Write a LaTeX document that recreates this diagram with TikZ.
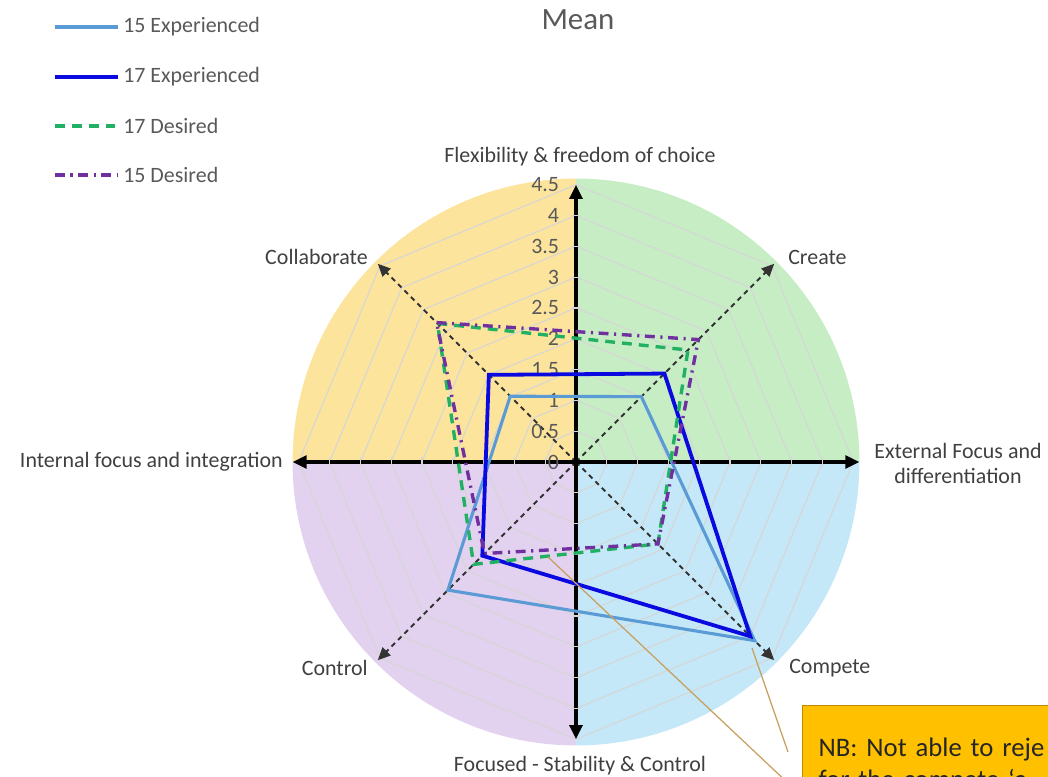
\documentclass[tikz,border=0pt]{standalone}
\usepackage{fontspec}
\setmainfont{Carlito}
\usetikzlibrary{arrows.meta,positioning}

\definecolor{quadyellow}{HTML}{FCE49C}
\definecolor{quadgreen}{HTML}{C6EDC4}
\definecolor{quadblue}{HTML}{C4E8F7}
\definecolor{quadpurple}{HTML}{E2D1EF}
\definecolor{gridgray}{HTML}{D6D6D6}
\definecolor{labelgray}{HTML}{404040}
\definecolor{ticktext}{HTML}{595959}
\definecolor{expfifteen}{HTML}{5B9BD5}
\definecolor{expseventeen}{HTML}{0A0AE0}
\definecolor{desseventeen}{HTML}{22B062}
\definecolor{desfifteen}{HTML}{7030A0}
\definecolor{calloutline}{HTML}{C8A062}
\definecolor{nbfill}{HTML}{FFC000}
\definecolor{nbdraw}{HTML}{C08A00}

\begin{document}
\begin{tikzpicture}[x=0.025cm,y=0.025cm,
    lbl/.style={font=\fontsize{15.6}{17.8}\selectfont, text=labelgray, inner sep=0pt},
    legtext/.style={font=\fontsize{15.6}{17.8}\selectfont, text=ticktext, inner sep=0pt, anchor=west},
    ticklbl/.style={font=\fontsize{15.6}{17.8}\selectfont, text=ticktext, inner sep=0pt, anchor=east},
    mainaxis/.style={line width=2.6pt, black, {Triangle[length=10pt,width=9pt]}-{Triangle[length=10pt,width=9pt]}},
    diagaxis/.style={line width=1.4pt, black!80, dash pattern=on 3.5pt off 3pt, -{Triangle[length=9pt,width=8pt]}},
    gridline/.style={gridgray, line width=0.8pt},
    tickmark/.style={gridgray, line width=0.8pt},
    exp15/.style={expfifteen, line width=2.2pt},
    exp17/.style={expseventeen, line width=2.7pt},
    des17/.style={desseventeen, line width=2.4pt, dash pattern=on 7pt off 5pt},
    des15/.style={desfifteen, line width=2.4pt, dash pattern=on 7pt off 4pt on 1.5pt off 4pt},
    callout/.style={calloutline, line width=0.9pt},
    nbbox/.style={fill=nbfill, draw=nbdraw, line width=0.8pt, text=black!85,
      font=\fontsize{19}{22.5}\selectfont, text width=9cm, align=left,
      inner xsep=0.4cm, inner ysep=16pt, minimum height=3cm}]
  \useasboundingbox (-576,-315) rectangle (472,462);
  \clip (-576,-315) rectangle (472,462);

  \begin{scope}[x=1.54cm,y=1.54cm]
    % quadrants
    \fill[quadgreen] (0,0) -- (0:4.6) arc (0:90:4.6) -- cycle;
    \fill[quadyellow] (0,0) -- (90:4.6) arc (90:180:4.6) -- cycle;
    \fill[quadpurple] (0,0) -- (180:4.6) arc (180:270:4.6) -- cycle;
    \fill[quadblue] (0,0) -- (270:4.6) arc (270:360:4.6) -- cycle;
    \foreach \r in {0.5,1,...,4.5}
      \draw[gridline] (0:\r) -- (45:\r) -- (90:\r) -- (135:\r) -- (180:\r)
        -- (225:\r) -- (270:\r) -- (315:\r) -- cycle;

    \coordinate (o) at (0,0);
    \coordinate (collab) at (135:4.55);
    \coordinate (create) at (45:4.55);
    \coordinate (compete) at (-45:4.55);
    \coordinate (control) at (225:4.55);
    \coordinate (topax) at (0,4.5);
    \coordinate (botax) at (0,-4.5);
    \coordinate (leftax) at (-4.6,0);
    \coordinate (rightax) at (4.6,0);

    \foreach \d in {collab,create,compete,control}
      \draw[diagaxis] (o) -- (\d);
    \draw[mainaxis] (botax) -- (topax);
    \draw[mainaxis] (leftax) -- (rightax);
    \foreach \v in {0.5,1,...,4} {
      \draw[tickmark] (-0.08,\v) -- (0.08,\v);
      \draw[tickmark] (-0.08,-\v) -- (0.08,-\v);
      \draw[tickmark] (\v,-0.08) -- (\v,0.08);
      \draw[tickmark] (-\v,-0.08) -- (-\v,0.08);
    }
    \foreach \v/\t in {0/0,0.5/0.5,1/1,1.5/1.5,2/2,2.5/2.5,3/3,3.5/3.5,4/4,4.5/4.5}
      \node[ticklbl] (tick\t) at (-0.27,\v) {\t};

    \draw[exp15] (135:1.51) -- (45:1.5) -- (-45:4.1) -- (225:2.94) -- cycle;
    \draw[exp17] (135:2.0) -- (45:2.03) -- (-45:4.0) -- (225:2.15) -- cycle;
    \draw[des17] (135:3.18) -- (45:2.57) -- (-45:1.88) -- (225:2.35) -- cycle;
    \draw[des15] (135:3.2) -- (45:2.81) -- (-45:1.88) -- (225:2.1) -- cycle;
  \end{scope}

  \node[font=\fontsize{22}{26}\selectfont, text=ticktext] (title) at (2,442) {Mean};

  \foreach \y/\s/\t in {435/exp15/15 Experienced,385/exp17/17 Experienced,336/des17/17 Desired,287/des15/15 Desired} {
    \draw[\s] (-521,\y) -- (-458,\y);
    \node[legtext] (leg\y) at (-453,\y) {\t};
  }

  \node[lbl] (flexlbl) at (4,305) {Flexibility \& freedom of choice};
  \node[lbl, anchor=east] (collablbl) at (-208,205) {Collaborate};
  \node[lbl, anchor=west] (createlbl) at (212,205) {Create};
  \node[lbl, anchor=east] (internallbl) at (-293,0) {Internal focus and integration};
  \node[lbl, align=center] (externallbl) at (382,-1) {External Focus and\\differentiation};
  \node[lbl, anchor=west] (competelbl) at (213,-206) {Compete};
  \node[lbl, anchor=east] (controllbl) at (-208,-206) {Control};
  \node[lbl] (focusedlbl) at (4,-304) {Focused - Stability \& Control};

  \coordinate (compmark) at (176,-186);
  \coordinate (ctrlmark) at (-28,-95);
  \coordinate (calloutA) at (212,-290);
  \coordinate (calloutB) at (214,-323);
  \draw[callout] (compmark) -- (calloutA);
  \draw[callout] (ctrlmark) -- (calloutB);

  \node[nbbox, anchor=north west] (nbnote) at (226,-243)
    {NB: Not able to reje\\for the compete ‘a};
\end{tikzpicture}
\end{document}
